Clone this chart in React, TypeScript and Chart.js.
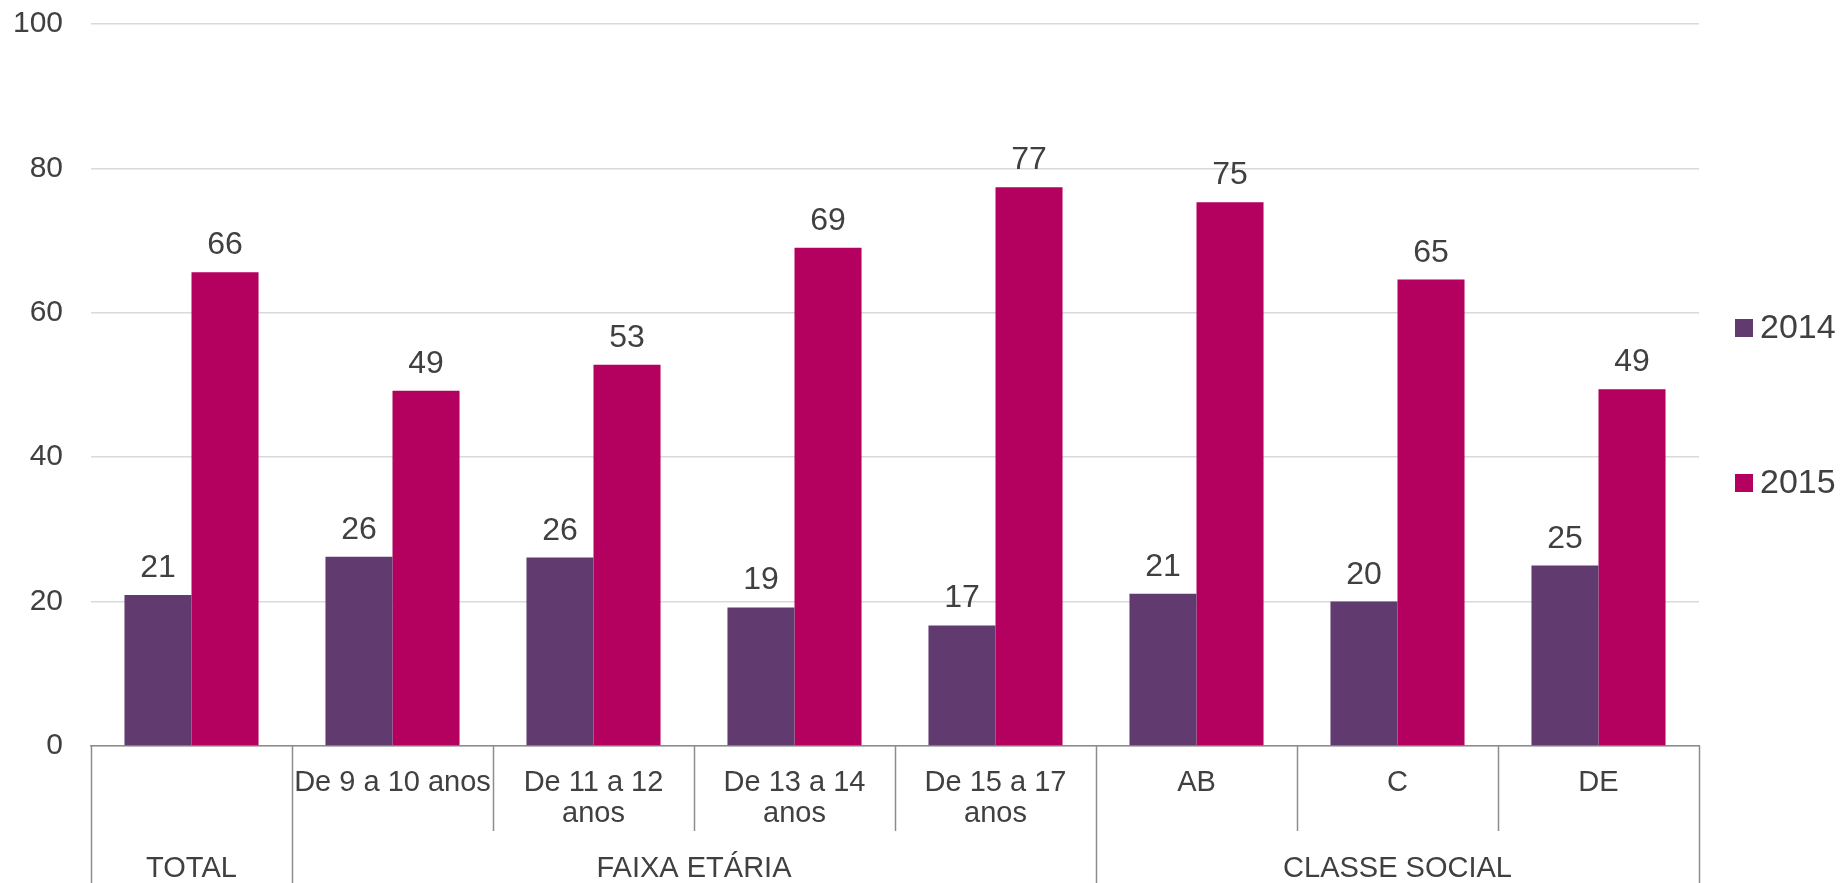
import React, { useEffect, useRef } from "react";
import { Chart, registerables } from "chart.js";

Chart.register(...registerables);

const categories: (string | string[])[] = [
  "",
  "De 9 a 10 anos",
  ["De 11 a 12", "anos"],
  ["De 13 a 14", "anos"],
  ["De 15 a 17", "anos"],
  "AB",
  "C",
  "DE",
];
const seriesNames = ["2014", "2015"];
const values2014 = [20.9, 26.2, 26.1, 19.2, 16.7, 21.1, 20.0, 25.0];
const values2015 = [65.6, 49.2, 52.8, 69.0, 77.4, 75.3, 64.6, 49.4];
const groupLabels = ["TOTAL", "FAIXA ETÁRIA", "CLASSE SOCIAL"];
const groupStarts = [0, 1, 5];
const groupEnds = [0, 4, 7];
const yTicks = [0, 20, 40, 60, 80, 100];

const FONT = "'Liberation Sans', Arial, sans-serif";
const TEXT = "#404040";
const COLORS = ["#613A6F", "#B4005F"];
const AXIS = "#8c8c8c";

const decorPlugin = {
  id: "decor",
  afterDraw(chart: any) {
    const ctx = chart.ctx;
    const x = chart.scales.x;
    const area = chart.chartArea;
    const n = categories.length;
    const cw = (area.right - area.left) / n;
    ctx.save();
    // data labels
    ctx.font = `32px ${FONT}`;
    ctx.fillStyle = TEXT;
    ctx.textAlign = "center";
    ctx.textBaseline = "alphabetic";
    chart.data.datasets.forEach((ds: any, di: number) => {
      const meta = chart.getDatasetMeta(di);
      meta.data.forEach((bar: any, i: number) => {
        ctx.fillText(String(Math.round(ds.data[i])), bar.x, bar.y - 18);
      });
    });
    // category dividers
    ctx.strokeStyle = AXIS;
    ctx.lineWidth = 1.5;
    const groupBounds = new Set<number>();
    groupStarts.forEach((s) => groupBounds.add(s));
    groupEnds.forEach((e) => groupBounds.add(e + 1));
    for (let b = 0; b <= n; b++) {
      const px = Math.round(x.getPixelForValue(b) - cw / 2) + 0.5;
      const yEnd = groupBounds.has(b) ? chart.height : area.bottom + 85;
      ctx.beginPath();
      ctx.moveTo(px, area.bottom);
      ctx.lineTo(px, yEnd);
      ctx.stroke();
    }
    // group labels
    ctx.font = `29px ${FONT}`;
    ctx.fillStyle = TEXT;
    ctx.textBaseline = "middle";
    groupLabels.forEach((g, gi) => {
      const cx = (x.getPixelForValue(groupStarts[gi]) + x.getPixelForValue(groupEnds[gi])) / 2;
      ctx.fillText(g, cx, area.bottom + 123);
    });
    // legend
    const legendY = [328, 483];
    ctx.font = `34px ${FONT}`;
    ctx.textAlign = "left";
    seriesNames.forEach((name, i) => {
      ctx.fillStyle = COLORS[i];
      ctx.fillRect(1735, legendY[i] - 9, 18, 18);
      ctx.fillStyle = TEXT;
      ctx.fillText(name, 1760, legendY[i] + 1);
    });
    ctx.restore();
  },
};

export default function App() {
  const ref = useRef<HTMLCanvasElement | null>(null);
  useEffect(() => {
    document.body.style.margin = "0";
    const canvas = ref.current!;
    const chart = new Chart(canvas, {
      type: "bar",
      data: {
        labels: categories,
        datasets: [
          {
            label: seriesNames[0],
            data: values2014,
            backgroundColor: COLORS[0],
            categoryPercentage: 0.667,
            barPercentage: 1.0,
          },
          {
            label: seriesNames[1],
            data: values2015,
            backgroundColor: COLORS[1],
            categoryPercentage: 0.667,
            barPercentage: 1.0,
          },
        ],
      },
      options: {
        responsive: false,
        animation: false,
        devicePixelRatio: 1,
        layout: { padding: { top: 24, right: 142, bottom: 0, left: 0 } },
        plugins: {
          legend: { display: false },
          tooltip: { enabled: false },
        },
        scales: {
          x: {
            grid: { display: false, drawTicks: false },
            border: { display: true, color: AXIS, width: 1.5 },
            ticks: {
              color: TEXT,
              font: { family: FONT, size: 29, lineHeight: 1.05 },
              padding: 22,
              maxRotation: 0,
              autoSkip: false,
            },
            afterFit(scale: any) {
              scale.height = 137;
            },
          },
          y: {
            min: 0,
            max: 100,
            afterBuildTicks(scale: any) {
              scale.ticks = yTicks.map((v) => ({ value: v }));
            },
            grid: { color: "#d9d9d9", lineWidth: 1.5, drawTicks: false },
            border: { display: false },
            ticks: {
              color: TEXT,
              font: { family: FONT, size: 30 },
              padding: 28,
            },
            afterFit(scale: any) {
              scale.width = 91;
              scale.paddingTop = 0;
              scale.paddingBottom = 0;
            },
          },
        },
      },
      plugins: [decorPlugin],
    });
    return () => chart.destroy();
  }, []);
  return (
    <div style={{ width: 1841, height: 883, position: "relative" }}>
      <canvas ref={ref} width={1841} height={883} style={{ display: "block" }} />
    </div>
  );
}
